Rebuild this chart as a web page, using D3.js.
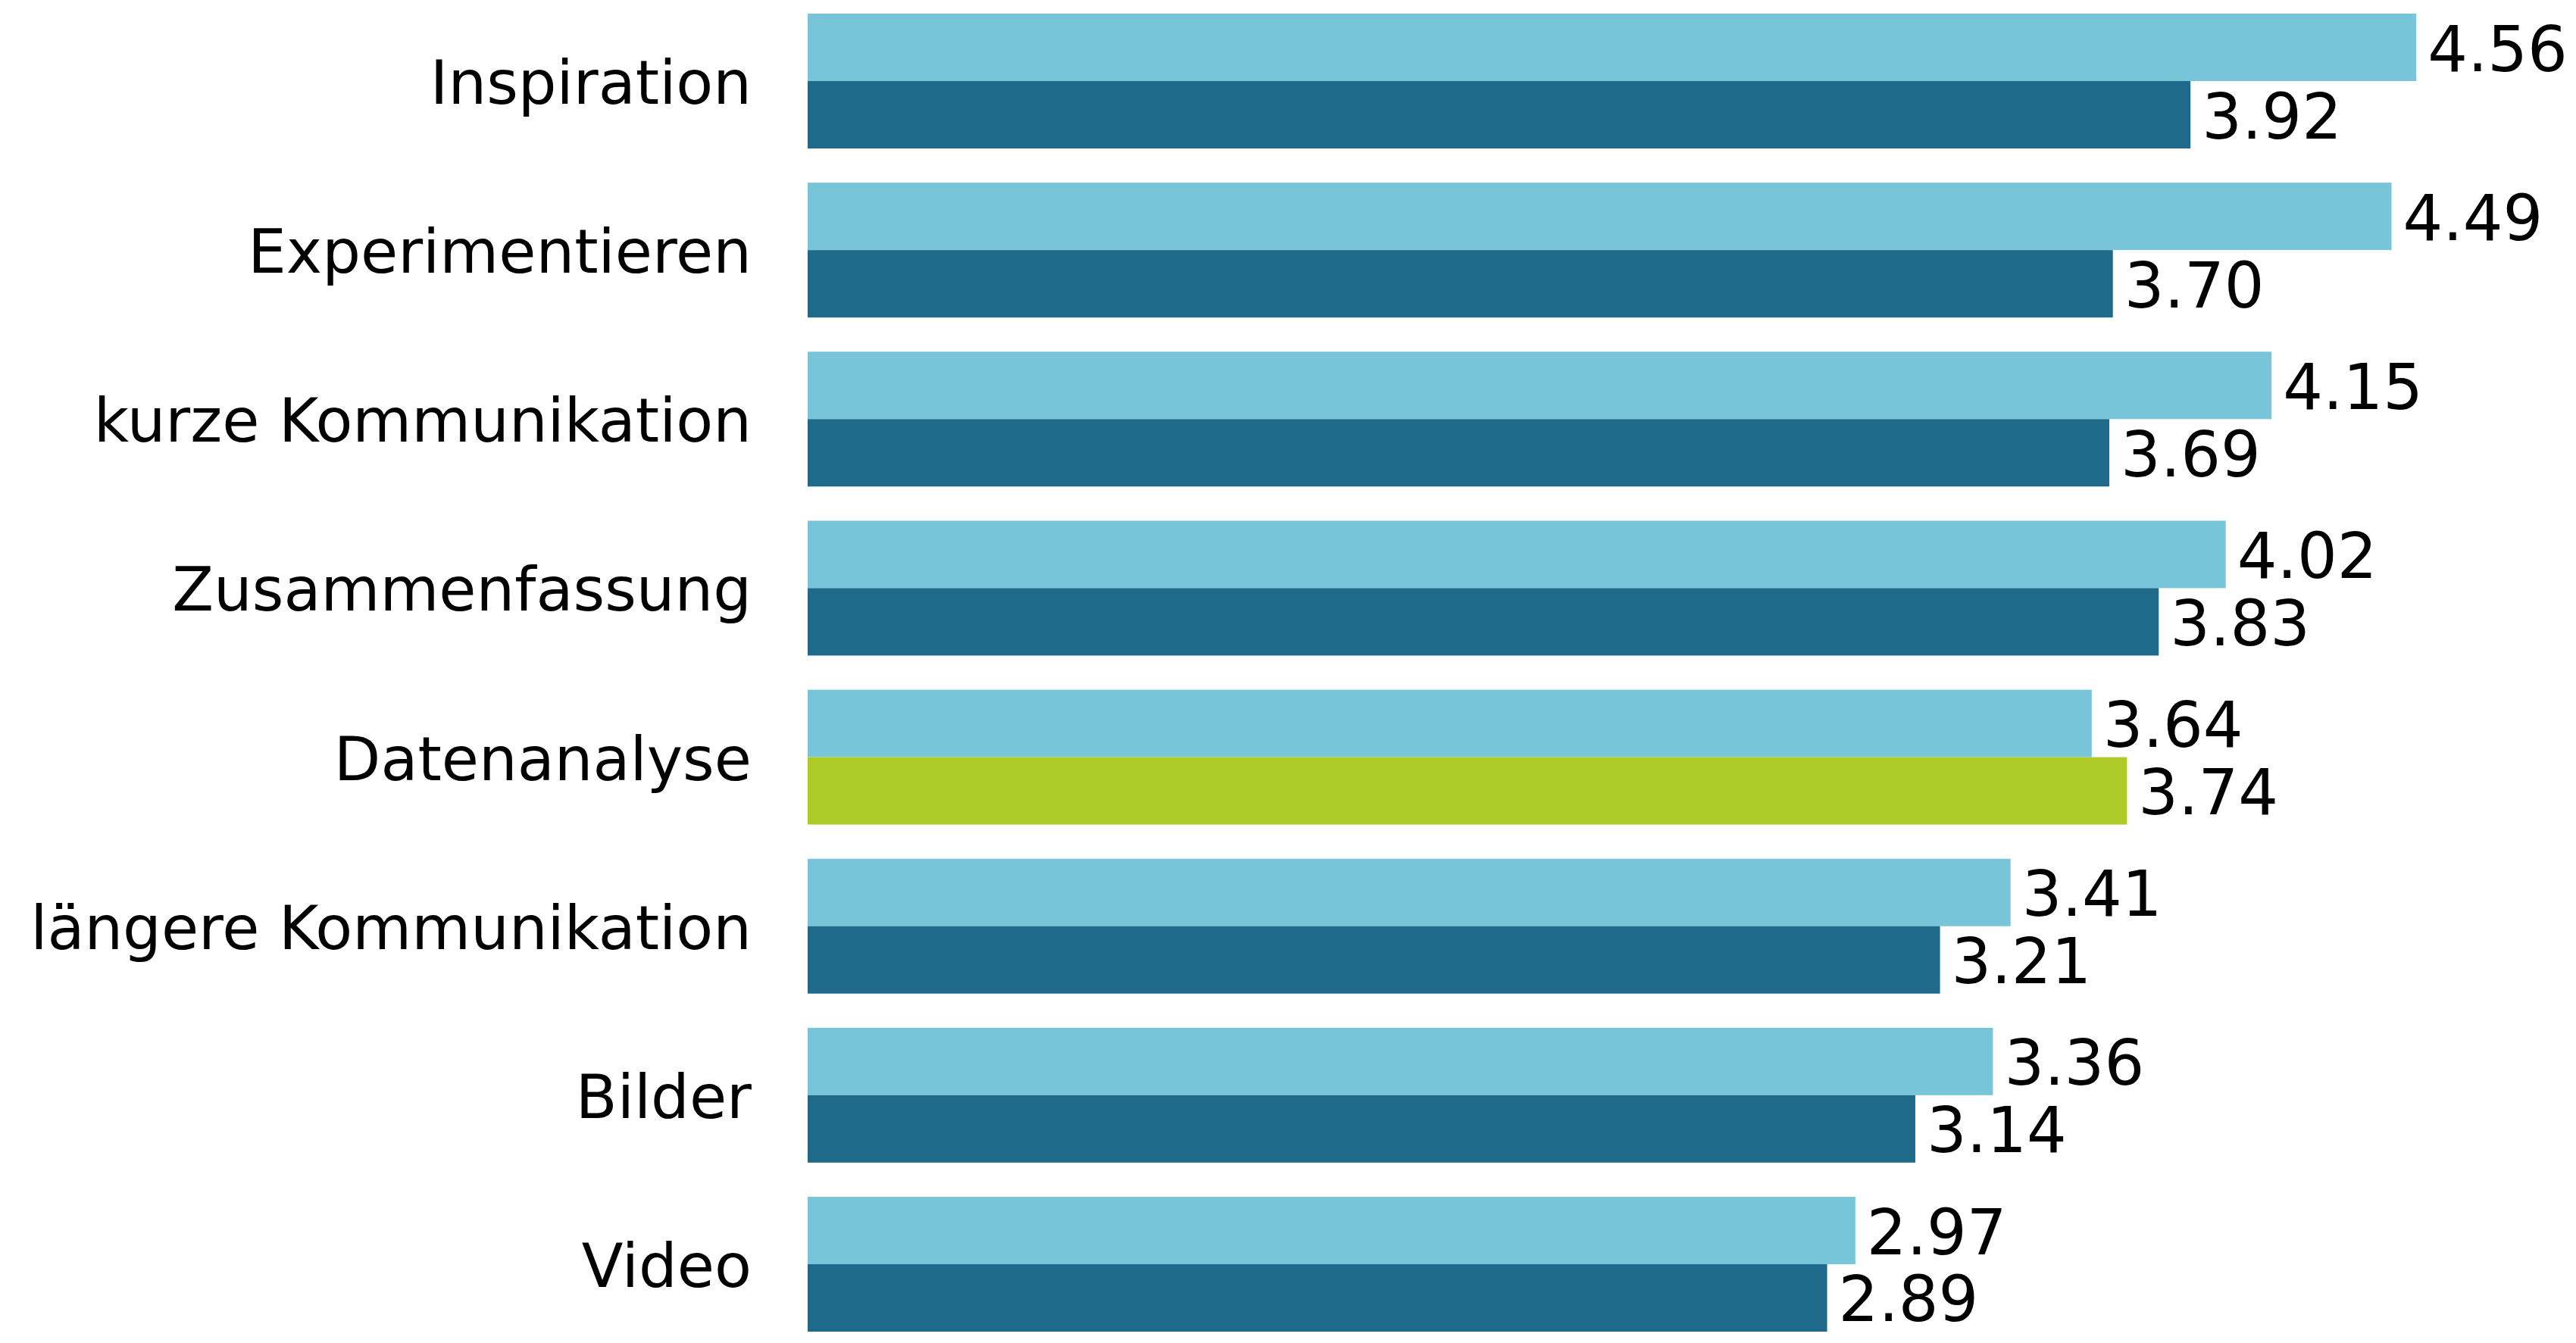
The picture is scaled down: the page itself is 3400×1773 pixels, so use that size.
<!DOCTYPE html>
<html>
<head>
<meta charset="utf-8">
<script src="https://cdn.jsdelivr.net/npm/d3@7"></script>
<style>
  html, body { margin: 0; padding: 0; background: #ffffff; }
  svg { display: block; }
  text { font-family: "DejaVu Sans", Verdana, sans-serif; fill: #000; }
</style>
</head>
<body>
<svg id="chart" width="3400" height="1773"></svg>
<script>
const categories = ["Inspiration", "Experimentieren", "kurze Kommunikation", "Zusammenfassung",
                    "Datenanalyse", "längere Kommunikation", "Bilder", "Video"];
const seriesNames = ["A", "B"];
const seriesA = [4.56, 4.49, 4.15, 4.02, 3.64, 3.41, 3.36, 2.97];
const seriesB = [3.92, 3.70, 3.69, 3.83, 3.74, 3.21, 3.14, 2.89];
const highlightCategory = "Datenanalyse";

const colorA = "#78c5d9";
const colorB = "#1f6a8a";
const colorHighlight = "#afcb28";

const svg = d3.select("#chart");
const x = d3.scaleLinear().domain([0, 5]).range([1066, 1066 + 5 * 465.6]);
const y = d3.scaleBand().domain(categories).range([18, 1758]).paddingInner(0.2023).paddingOuter(0);
const ySub = d3.scaleBand().domain(seriesNames).range([0, y.bandwidth()]);

const rows = categories.map((c, i) => ({ cat: c, values: [
  { s: "A", v: seriesA[i] },
  { s: "B", v: seriesB[i] }
]}));

const g = svg.append("g");
const groups = g.selectAll("g.grp").data(rows).join("g")
  .attr("class", "grp")
  .attr("transform", d => `translate(0,${y(d.cat)})`);

groups.selectAll("rect").data(d => d.values.map(v => ({ ...v, cat: d.cat }))).join("rect")
  .attr("x", x(0))
  .attr("y", d => ySub(d.s))
  .attr("width", d => x(d.v) - x(0))
  .attr("height", ySub.bandwidth())
  .attr("fill", d => d.s === "A" ? colorA : (d.cat === highlightCategory ? colorHighlight : colorB));

groups.selectAll("text.val").data(d => d.values).join("text")
  .attr("class", "val")
  .attr("x", d => x(d.v) + 15)
  .attr("y", d => ySub(d.s) + ySub.bandwidth() / 2 + 31)
  .attr("font-size", 83)
  .text(d => d3.format(".2f")(d.v));

// category axis labels
const yAxis = d3.axisLeft(y).tickSize(0).tickPadding(0);
const axisG = svg.append("g").attr("transform", `translate(${992},0)`).call(yAxis);
axisG.select(".domain").remove();
axisG.selectAll("text")
  .attr("font-size", 80)
  .attr("dy", null)
  .attr("y", 30)
  .attr("x", 0)
  .style("font-family", '"DejaVu Sans", Verdana, sans-serif')
  .attr("fill", "#000");
</script>
</body>
</html>
